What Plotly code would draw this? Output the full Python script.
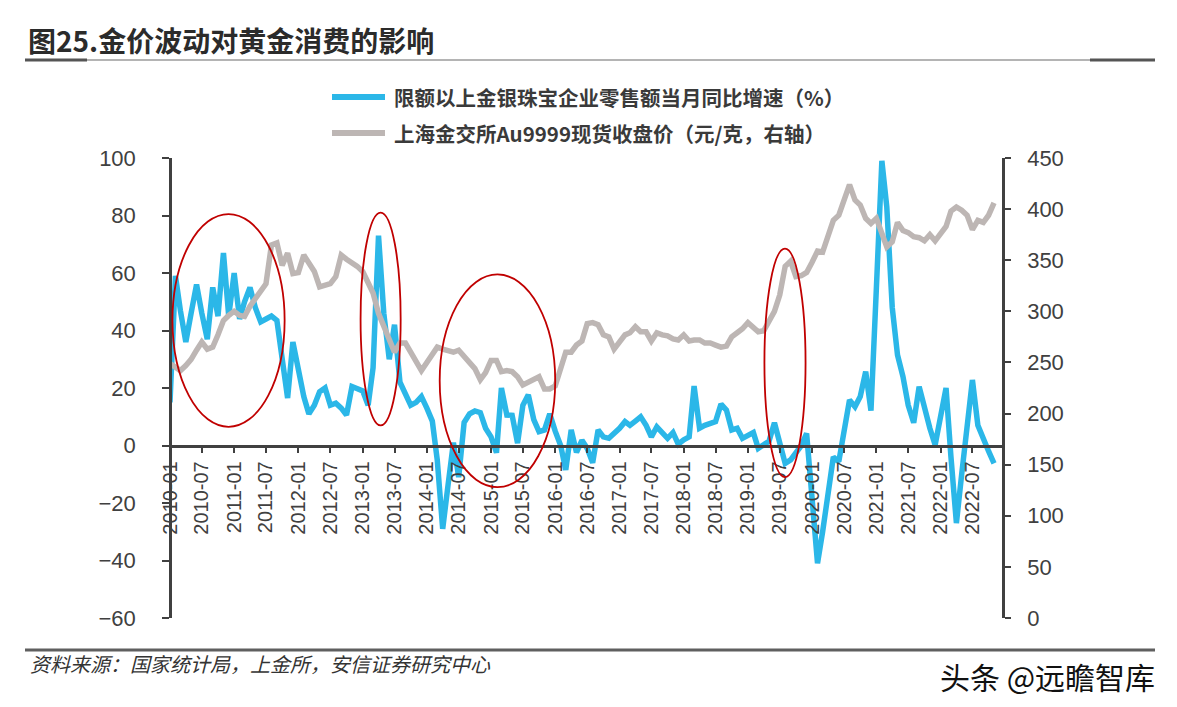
import pandas as pd
import plotly.graph_objects as go

# ---------------- data ----------------
blue_vals = [15, 59, 47, 36, 46, 56, 46, 37, 55, 45, 67, 45, 60, 44, 50, 55, 48, 43, 44, 45,
             43.5, 30, 16.5, 36, 26, 17, 11, 14, 18.7, 20, 14, 14.7, 13, 10.6, 20.5, 20, 19, 14, 27, 73,
             46, 30, 42, 22, 18, 14, 15, 17, 13, 8.5, -5, -29, -14, 1, -11, 8, 11, 12, 11.4, 6,
             3, -2.5, 20, 10.6, 10.5, 0.8, 14, 17.6, 9, 4.8, 5.4, 11, 5, 0, -8.5, 5.4, -2.4, 1.8, -1, -6,
             5.4, 3, 2.5, 4, 6, 8.3, 7, 8.5, 10, 7, 3, 6.5, 4.5, 2.5, 4.5, 0.5, 2, 3, 20.7, 6,
             7, 7.5, 8.3, 14.4, 12.3, 5.4, 6, 2.5, 3.5, 4.5, -1, 0.5, 1.5, 7.9, 0, -6.2, -5, -2.7, 0, 4.2,
             -18, -41, -30, -17, -4, -5.6, 5, 15.8, 13.5, 17, 25.7, 12.1, 55, 99, 83, 48, 31.5, 24, 14, 7.9,
             20.5, 13, 6, 0.2, 10, 20, -4, -27, -10, 5, 22.8, 7, 2, -2, -6.2]

grey_vals = [249, 245, 242, 247, 253, 262, 270, 263, 265, 277, 291, 296, 300, 296, 295, 305, 312, 319, 327, 365,
             367, 345, 357, 337, 338, 355, 347, 339, 324, 326, 327, 334, 355, 351, 348, 344, 339, 329, 318, 298,
             285, 270, 260, 269, 269, 260, 250, 242, 250, 258, 265, 263, 261, 260, 262, 256, 248, 244, 233, 240,
             252, 252, 241, 242, 241, 236, 228, 231, 233, 236, 224, 224, 227, 245, 260, 260, 267, 271, 288, 289,
             287, 277, 275, 263, 270, 277, 279, 285, 280, 280, 271, 279, 277, 276, 273, 272, 277, 271, 272, 272,
             269, 269, 267, 265, 266, 275, 279, 283, 289, 285, 280, 281, 290, 300, 316, 344, 349, 334, 335, 338,
             348, 359, 358, 372, 389, 394, 409, 424, 409, 404, 391, 386, 391, 378, 363, 368, 387, 379, 377, 373,
             372, 369, 375, 369, 375, 383, 398, 402, 399, 394, 380, 389, 387, 394, 406]

months = pd.date_range("2010-01-01", periods=len(blue_vals), freq="MS")

series_names = ["限额以上金银珠宝企业零售额当月同比增速（%）",
                "上海金交所Au9999现货收盘价（元/克，右轴）"]
title_text = "图25.金价波动对黄金消费的影响"
source_text = "资料来源：国家统计局，上金所，安信证券研究中心"
mark_text = "头条 @远瞻智库"

BLUE = "#2BB7E8"
GREY = "#BDB6B4"
AXC = "#404040"
RED = "#C00000"

# plot area in pixels
L, R, T, B = 170, 1003, 158, 618
W, H = 1177, 707


def px(x):
    return (x - L) / (R - L)


def py(y):
    return (B - y) / (B - T)


fig = go.Figure()
fig.add_trace(go.Scatter(x=months, y=grey_vals, yaxis="y2", mode="lines",
                         line=dict(color=GREY, width=5.5), name=series_names[1], showlegend=False))
fig.add_trace(go.Scatter(x=months, y=blue_vals, yaxis="y", mode="lines",
                         line=dict(color=BLUE, width=5.5), name=series_names[0], showlegend=False))

# red ellipses (annotations)
ellipses = [("2010-01-15", "2011-10-15", 6.5, 80.5),
            ("2012-12-20", "2013-08-05", 7, 81),
            ("2014-03-15", "2016-01-01", -14.5, 59.5),
            ("2019-04-05", "2019-11-25", -11, 68.5)]
for x0, x1, y0, y1 in ellipses:
    fig.add_shape(type="circle", xref="x", yref="y", x0=x0, x1=x1, y0=y0, y1=y1,
                  line=dict(color=RED, width=1.8), layer="above")

# manual legend
leg_y = [97, 133]
leg_col = [BLUE, GREY]
for yy, col, nm in zip(leg_y, leg_col, series_names):
    fig.add_shape(type="line", xref="paper", yref="paper", x0=px(332), x1=px(385),
                  y0=py(yy), y1=py(yy), line=dict(color=col, width=6))
    fig.add_annotation(xref="paper", yref="paper", x=px(392), y=py(yy), text=nm,
                       showarrow=False, xanchor="left", yanchor="middle",
                       font=dict(family="Noto Sans CJK SC", size=20.5, color="#3a3a3a", weight="bold"))

# title underline and bottom line
fig.add_shape(type="line", xref="paper", yref="paper", x0=px(25), x1=px(1155), y0=py(60), y1=py(60),
              line=dict(color="#6b6b6b", width=1.2))
fig.add_shape(type="line", xref="paper", yref="paper", x0=px(25), x1=px(87), y0=py(60), y1=py(60),
              line=dict(color="#555555", width=3))
fig.add_shape(type="line", xref="paper", yref="paper", x0=px(1090), x1=px(1155), y0=py(60), y1=py(60),
              line=dict(color="#555555", width=3))
fig.add_shape(type="line", xref="paper", yref="paper", x0=px(25), x1=px(1155), y0=py(650), y1=py(650),
              line=dict(color="#5f5f5f", width=3))

fig.add_annotation(xref="paper", yref="paper", x=px(28), y=py(663), text="<i>" + source_text + "</i>",
                   showarrow=False, xanchor="left", yanchor="middle",
                   font=dict(family="Noto Sans CJK SC", size=20, color="#333333"))
fig.add_annotation(xref="paper", yref="paper", x=px(1157), y=py(676), text=mark_text,
                   showarrow=False, xanchor="right", yanchor="middle",
                   font=dict(family="Noto Sans CJK SC", size=30, color="#111111"))

fig.update_layout(
    width=W, height=H,
    margin=dict(l=L, r=W - R, t=T, b=H - B, pad=0),
    paper_bgcolor="white", plot_bgcolor="white",
    title=dict(text="<b>" + title_text + "</b>", xref="container", yref="container",
               x=28 / W, y=1 - 42 / H, xanchor="left", yanchor="middle",
               font=dict(family="Noto Sans CJK SC", size=28, color="#2b2b2b")),
    xaxis=dict(type="date", range=["2010-01-01", "2022-12-22"], anchor="free", position=0.375,
               tick0="2010-01-01", dtick="M6", tickformat="%Y-%m", tickangle=-90,
               ticks="outside", ticklen=6, tickwidth=2, tickcolor=AXC,
               showline=True, linecolor=AXC, linewidth=2.5, showgrid=False, zeroline=False,
               tickfont=dict(family="Liberation Sans", size=20, color=AXC)),
    yaxis=dict(range=[-60, 100], dtick=20, tick0=0, anchor="free", position=0,
               ticks="outside", ticklen=7, tickwidth=2, tickcolor=AXC,
               showline=True, linecolor=AXC, linewidth=2.5, showgrid=False, zeroline=False,
               ticklabelstandoff=22,
               tickfont=dict(family="Liberation Sans", size=22, color=AXC)),
    yaxis2=dict(range=[0, 450], dtick=50, tick0=0, overlaying="y", side="right", anchor="free", position=1,
                ticks="outside", ticklen=6, tickwidth=2, tickcolor=AXC,
                showline=True, linecolor=AXC, linewidth=2.5, showgrid=False, zeroline=False,
                ticklabelstandoff=12,
                tickfont=dict(family="Liberation Sans", size=22, color=AXC)),
    showlegend=False,
)

fig.write_html("out.html", config={"displayModeBar": False},
               post_script="document.body.style.margin='0';document.body.style.padding='0';")
